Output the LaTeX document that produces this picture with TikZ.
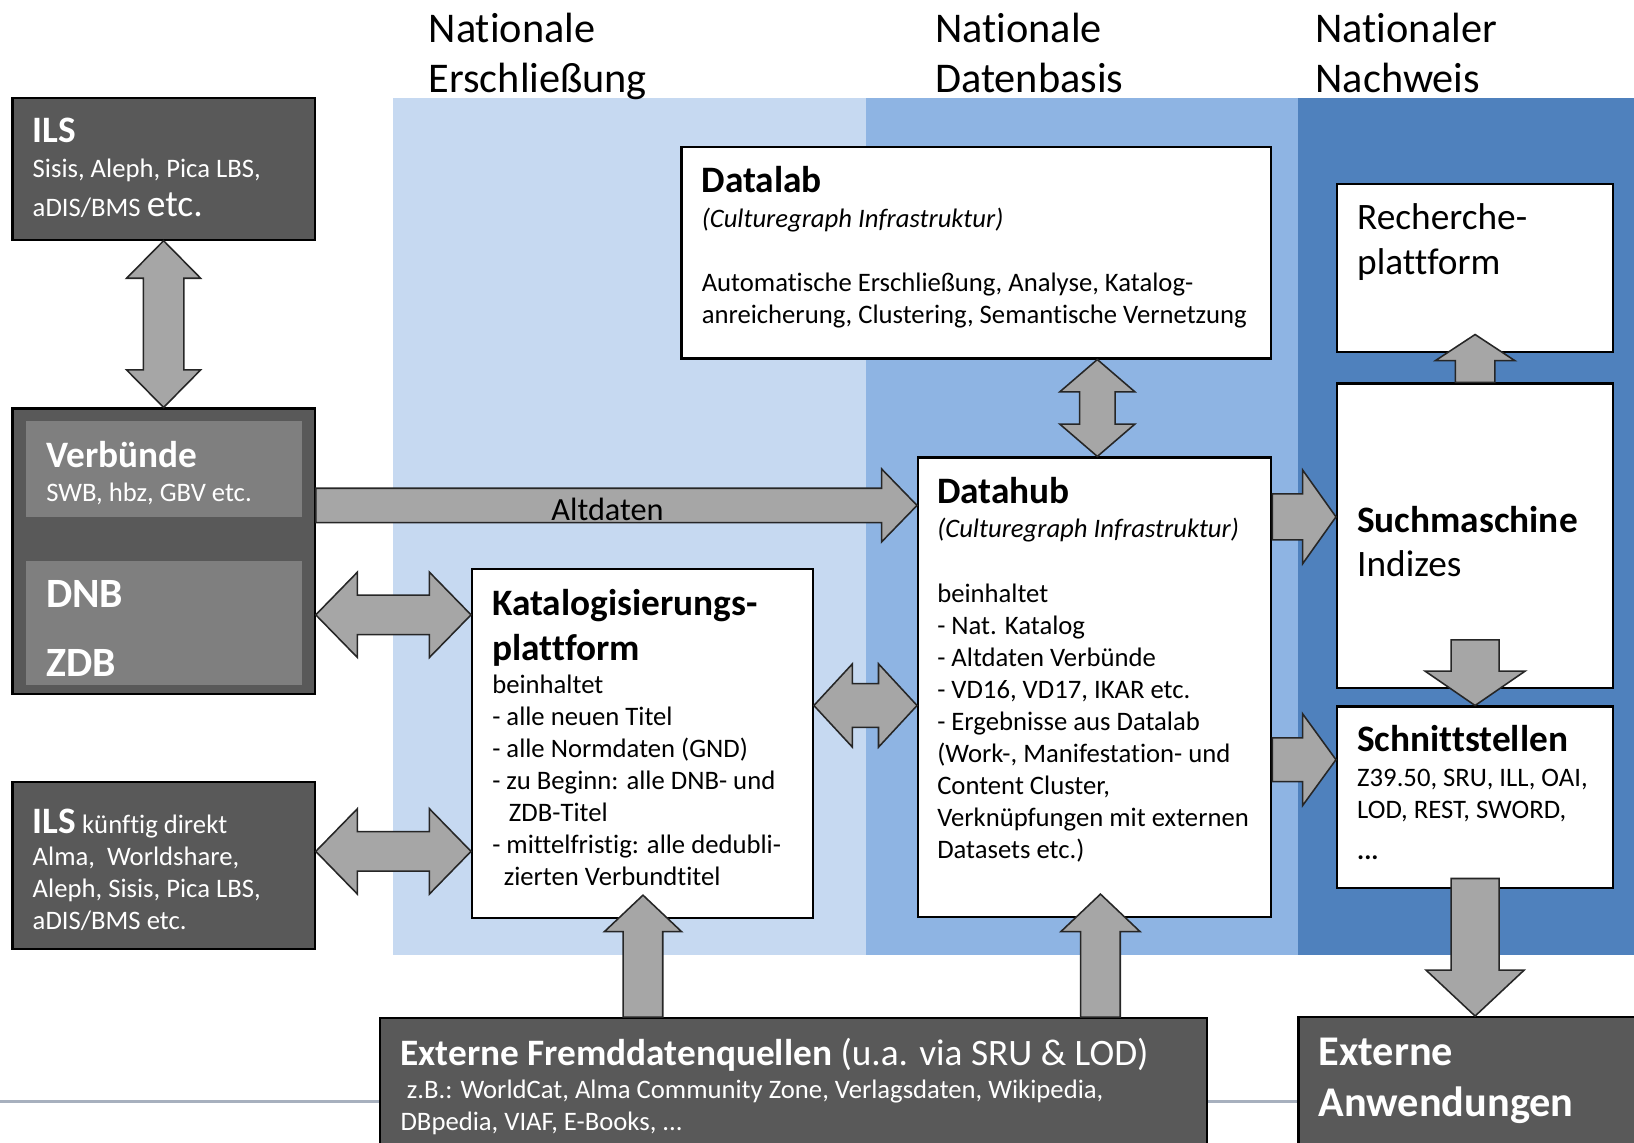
\documentclass[tikz,border=0pt]{standalone}
\usepackage{fontspec}
\setmainfont{Carlito}[Ligatures=NoCommon]
\usetikzlibrary{positioning,calc,fit}

\definecolor{bandA}{HTML}{C6D9F1}
\definecolor{bandB}{HTML}{8EB4E3}
\definecolor{bandC}{HTML}{4F81BD}
\definecolor{boxdark}{HTML}{595959}
\definecolor{boxpanel}{HTML}{7F7F7F}
\definecolor{arrowgray}{HTML}{A6A6A6}
\definecolor{rulegray}{HTML}{A7B0BE}

\newcommand{\bodyfont}{\fontsize{12.8}{15.4}\selectfont}
\newcommand{\headfont}{\fontsize{17.9}{21.5}\selectfont}

\tikzset{
  whitebox/.style={draw=black, fill=white, line width=1pt, inner sep=0pt},
  darkbox/.style={draw=black, fill=boxdark, line width=1pt, inner sep=0pt},
  panelbox/.style={fill=boxpanel, inner sep=0pt},
  blockarrow/.style={draw=black!85, fill=arrowgray, line width=0.75pt, line join=miter},
  txt/.style={anchor=north west, inner sep=0pt, align=left, font=\bodyfont},
  ttl/.style={anchor=north west, inner sep=0pt, align=left, font=\headfont\bfseries},
  hdr/.style={anchor=north west, inner sep=0pt, align=left, font=\fontsize{20.3}{24}\selectfont}
}

% tail, tip, half shaft, half head, head length
\newcommand{\fatarrow}[5]{%
  \coordinate (fa-base) at ($#2!#5!#1$);
  \draw[blockarrow] ($#1!#3!90:#2$) -- ($(fa-base)!#3!90:#2$) -- ($(fa-base)!#4!90:#2$) -- #2
    -- ($(fa-base)!#4!-90:#2$) -- ($(fa-base)!#3!-90:#2$) -- ($#1!#3!-90:#2$) -- cycle;
}
% end, end, half shaft, half head, head length
\newcommand{\dblarrow}[5]{%
  \coordinate (da-a) at ($#1!#5!#2$);
  \coordinate (da-b) at ($#2!#5!#1$);
  \draw[blockarrow] #1 -- ($(da-a)!#4!90:#2$) -- ($(da-a)!#3!90:#2$) -- ($(da-b)!#3!-90:#1$)
    -- ($(da-b)!#4!-90:#1$) -- #2 -- ($(da-b)!#4!90:#1$) -- ($(da-b)!#3!90:#1$)
    -- ($(da-a)!#3!-90:#2$) -- ($(da-a)!#4!-90:#2$) -- cycle;
}

\begin{document}
\begin{tikzpicture}[x=0.5pt, y=-0.5pt]
    \useasboundingbox (0,0) rectangle (1568,1096);
    %%%%% THE BANDS
    \fill[bandA] (377,94) rectangle (831,916);
    \fill[bandB] (831,94) rectangle (1246,916);
    \fill[bandC] (1246,94) rectangle (1568,916);
    \draw[rulegray, line width=1.5pt] (0,1057) -- (1568,1057);
    \node[hdr] (head-ersch) at (411,12) {Nationale\\Erschließung};
    \node[hdr] (head-daten) at (897,12) {Nationale\\Datenbasis};
    \node[hdr] (head-nachw) at (1262,12) {Nationaler\\Nachweis};

    %%%%% THE BOXES
    \node[darkbox, fit={(12,94) (302,230)}] (ils) {};
    \node[darkbox, fit={(12,392) (302,666)}] (verb) {};
    \node[panelbox, fit={(25,404) (290,496)}] (verb-top) {};
    \node[panelbox, fit={(25,538) (290,657)}] (verb-bot) {};
    \node[darkbox, fit={(12,750) (302,911)}] (ilsneu) {};
    \node[whitebox, fit={(453,546) (780,881)}] (katalog) {};
    \node[whitebox, fit={(654,141) (1220,344)}] (datalab) {};
    \node[whitebox, fit={(881,439) (1220,880)}] (datahub) {};
    \node[whitebox, fit={(1283,177) (1548,338)}] (recherche) {};
    \node[whitebox, fit={(1283,368) (1548,660)}] (such) {};
    \node[whitebox, fit={(1283,678) (1548,852)}] (schnitt) {};
    \node[darkbox, fit={(365,977) (1158,1120)}] (extern) {};
    \node[darkbox, fit={(1246,976) (1590,1120)}] (anwend) {};

    %%%%% THE ARROWS
    \coordinate (rowAlt) at (0,485);
    \coordinate (rowVK) at (0,590);
    \coordinate (rowIK) at (0,817);
    \coordinate (rowKD) at (0,677);
    \coordinate (rowDS) at (0,496);
    \coordinate (rowDI) at (0,729);
    \coordinate (colDL) at (1053,0);
    \coordinate (colEK) at (617,0);
    \coordinate (colED) at (1056,0);
    \coordinate (rech-tip) at ($(recherche.south)+(0,-18)$);
    \coordinate (such-out) at ($(such.south)+(0,-47)$);
    \coordinate (schn-out) at ($(schnitt.south)+(0,-10)$);
    \coordinate (kat-tip) at ($(colEK |- katalog.south)+(0,-23)$);
    \coordinate (dhub-tip) at ($(colED |- datahub.south)+(0,-23)$);

    \dblarrow{(ils.south)}{(verb.north)}{9.75pt}{17.75pt}{18pt}
    \fatarrow{(verb.east |- rowAlt)}{(datahub.west |- rowAlt)}{8.25pt}{17.5pt}{17pt}
    \dblarrow{(verb.east |- rowVK)}{(katalog.west |- rowVK)}{9.5pt}{20.5pt}{20pt}
    \dblarrow{(ilsneu.east |- rowIK)}{(katalog.west |- rowIK)}{9.5pt}{20.5pt}{20pt}
    \dblarrow{(katalog.east |- rowKD)}{(datahub.west |- rowKD)}{10.5pt}{20pt}{18.5pt}
    \dblarrow{(colDL |- datalab.south)}{(colDL |- datahub.north)}{8.5pt}{18pt}{15.5pt}
    \fatarrow{(datahub.east |- rowDS)}{(such.west |- rowDS)}{11pt}{22.5pt}{16pt}
    \fatarrow{(datahub.east |- rowDI)}{(schnitt.west |- rowDI)}{10.5pt}{22pt}{16pt}
    \fatarrow{(such.north)}{(rech-tip)}{9.5pt}{19pt}{12.5pt}
    \fatarrow{(such-out)}{(schnitt.north)}{11.5pt}{24pt}{16.5pt}
    \fatarrow{(schn-out)}{(anwend.north -| schnitt.south)}{11.5pt}{23.5pt}{22pt}
    \fatarrow{(colEK |- extern.north)}{(kat-tip)}{9.5pt}{18.5pt}{17.5pt}
    \fatarrow{(colED |- extern.north)}{(dhub-tip)}{9.5pt}{19pt}{18pt}
    \node[font=\fontsize{15.5}{17}\selectfont, inner sep=0pt] (alt-l) at (583,489) {Altdaten};

    %%%%% THE TEXTS
    \node[ttl, text=white] (ils-t) at (31,113) {ILS};
    \node[txt, text=white, font=\fontsize{12.8}{19}\selectfont] (ils-b) at (31,152)
        {Sisis, Aleph, Pica LBS,\\aDIS/BMS {\fontsize{18}{19}\selectfont etc.}};
    \node[ttl, text=white] (verb-t) at (44,423) {Verbünde};
    \node[txt, text=white] (verb-b) at (44,463) {SWB, hbz, GBV etc.};
    \node[ttl, text=white, font=\fontsize{20}{24}\selectfont\bfseries] (dnb) at (44,557) {DNB};
    \node[ttl, text=white, font=\fontsize{20}{24}\selectfont\bfseries] (zdb) at (44,623) {ZDB};
    \node[txt, text=white] (ilsneu-t) at (31,776)
        {{\headfont\bfseries ILS} künftig direkt\\Alma,~ Worldshare,\\Aleph, Sisis, Pica LBS,\\aDIS/BMS etc.};

    \node[ttl] (kat-t) at (472,565) {Katalogisierungs-\\plattform};
    \node[txt] (kat-b) at (472,647) {beinhaltet\\- alle neuen Titel\\- alle Normdaten (GND)\\- zu Beginn: alle DNB- und\\\hspace*{8pt}ZDB-Titel\\- mittelfristig: alle dedubli-\\\hspace*{5.5pt}zierten Verbundtitel};

    \node[ttl] (dlab-t) at (673,159) {Datalab};
    \node[txt] (dlab-b) at (673,199) {\textit{(Culturegraph Infrastruktur)}\\[15.4pt]Automatische Erschließung, Analyse, Katalog-\\anreicherung, Clustering, Semantische Vernetzung};

    \node[ttl] (dhub-t) at (899,458) {Datahub};
    \node[txt] (dhub-b) at (899,497) {\textit{(Culturegraph Infrastruktur)}\\[15.4pt]beinhaltet\\- Nat. Katalog\\- Altdaten Verbünde\\- VD16, VD17, IKAR etc.\\- Ergebnisse aus Datalab\\(Work-, Manifestation- und\\Content Cluster,\\Verknüpfungen mit externen\\Datasets etc.)};

    \node[txt, font=\headfont] (rech-t) at (1302,195) {Recherche-\\plattform};
    \node[ttl] (such-t) at (1302,485) {Suchmaschine};
    \node[txt, font=\headfont] (such-b) at (1302,528) {Indizes};
    \node[ttl] (schn-t) at (1302,696) {Schnittstellen};
    \node[txt] (schn-b) at (1302,738) {Z39.50, SRU, ILL, OAI,\\LOD, REST, SWORD,\\[4pt]\textbf{...}};

    \node[txt, text=white, font=\headfont] (ext-t) at (384,996) {\textbf{Externe Fremddatenquellen} (u.a. via SRU \& LOD)};
    \node[txt, text=white] (ext-b) at (384,1036) {\hspace*{3pt}z.B.: WorldCat, Alma Community Zone, Verlagsdaten, Wikipedia,\\DBpedia, VIAF, E-Books, ...};
    \node[txt, text=white, font=\fontsize{20.3}{24.5}\selectfont\bfseries] (anw-t) at (1265,996) {Externe\\Anwendungen};
\end{tikzpicture}
\end{document}
